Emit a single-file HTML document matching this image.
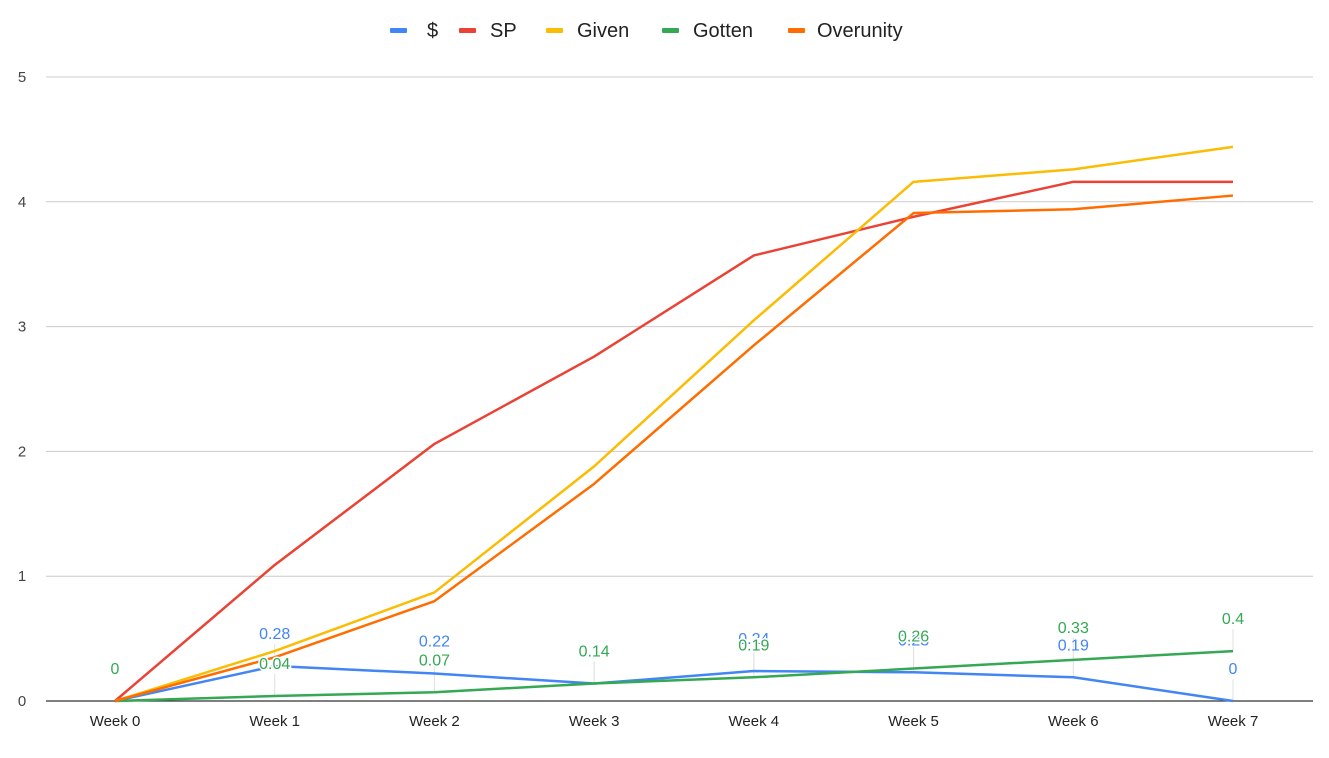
<!DOCTYPE html>
<html><head><meta charset="utf-8"><style>
body{margin:0;background:#fff;font-family:"Liberation Sans",Arial,sans-serif}
</style></head><body>
<svg id="chart" width="1329" height="753" xmlns="http://www.w3.org/2000/svg" font-family="Liberation Sans, Arial, sans-serif"></svg>
<script>
const categories=["Week 0","Week 1","Week 2","Week 3","Week 4","Week 5","Week 6","Week 7"];
const dollar=[0,0.28,0.22,0.14,0.24,0.23,0.19,0];
const sp=[0,1.09,2.06,2.76,3.57,3.88,4.16,4.16];
const given=[0,0.40,0.87,1.88,3.05,4.16,4.26,4.44];
const gotten=[0,0.04,0.07,0.14,0.19,0.26,0.33,0.4];
const overunity=[0,0.35,0.80,1.74,2.85,3.91,3.94,4.05];
const yTicks=[0,1,2,3,4,5];
const NS="http://www.w3.org/2000/svg";
const svg=document.getElementById('chart');
const X=i=>115+i*(1233-115)/7;
const Y=v=>701-v*124.8;
function mk(t,a,p){const e=document.createElementNS(NS,t);for(const k in a)e.setAttribute(k,a[k]);(p||svg).appendChild(e);return e;}
yTicks.forEach(t=>{
 if(t>0){const g=mk('line',{x1:46,x2:1313,y1:Y(t),y2:Y(t),stroke:'#ccc','stroke-width':1});
 
 }
 const l=mk('text',{x:22,y:Y(t)+5,'text-anchor':'middle','font-size':15,fill:'#444'});l.textContent=t;
 
 
});
categories.forEach((c,i)=>{const l=mk('text',{x:X(i),y:726,'text-anchor':'middle','font-size':15,fill:'#222'});l.textContent=c;
 
 });
const series=[["$",dollar,'#4285f4'],["SP",sp,'#ea4335'],["Given",given,'#fbbc04'],["Gotten",gotten,'#34a853'],["Overunity",overunity,'#ff6d01']];
[[dollar],[gotten]].forEach(([d])=>d.forEach((v,i)=>{if(i>0){const s=mk('line',{x1:X(i),x2:X(i),y1:Y(v)-22,y2:Y(v),stroke:'#e0e0e0','stroke-width':1});
 
 }}));
const ax=mk('line',{x1:46,x2:1313,y1:701,y2:701,stroke:'#333','stroke-width':1.2});


series.forEach(([n,d,c])=>{const p=mk('polyline',{points:d.map((v,i)=>X(i)+','+Y(v)).join(' '),fill:'none',stroke:c,'stroke-width':2.5,'stroke-linejoin':'round'});
 
 });
[[dollar,'#4285f4'],[gotten,'#34a853']].forEach(([d,c])=>d.forEach((v,i)=>{
 const t=mk('text',{x:X(i),y:Y(v)-27,'text-anchor':'middle','font-size':16,fill:c,stroke:'#fff','stroke-width':c=='#34a853'?3:0,'paint-order':'stroke'});t.textContent=String(v);
 
 }));
const lx=[390,459,546,662,788];
const tx=[427,490,577,693,817];
series.forEach(([n,d,c],k)=>{
 const g=mk('g',{});
 
 
 mk('rect',{x:lx[k],y:28,width:17,height:5,fill:c,rx:1},g);
 const t=mk('text',{x:tx[k],y:37,'font-size':20,fill:'#222'},g);t.textContent=n;
});
</script>
</body></html>
